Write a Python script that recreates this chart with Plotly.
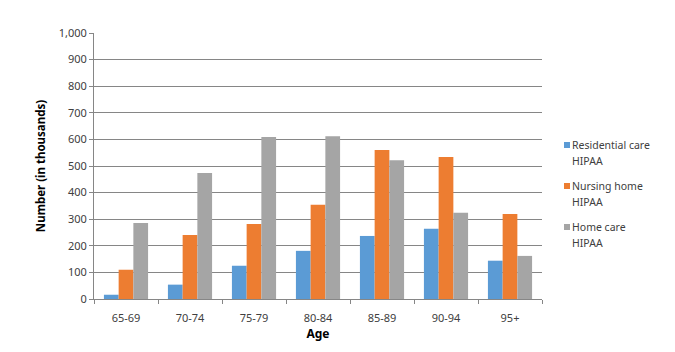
import plotly.graph_objects as go

ages = ["65-69", "70-74", "75-79", "80-84", "85-89", "90-94", "95+"]
residential = [16, 54, 125, 181, 237, 264, 144]
nursing = [110, 241, 282, 354, 560, 534, 320]
home = [286, 474, 609, 612, 522, 324, 162]
series_names = ["Residential care", "Nursing home", "Home care"]
series_sub = ["HIPAA", "HIPAA", "HIPAA"]
colors = ["#5B9BD5", "#ED7D31", "#A5A5A5"]

L, R, T, B = 94, 133, 33, 53
W, H = 675, 352
pw, ph = W - L - R, H - T - B

fig = go.Figure()
for i, (name, vals) in enumerate(zip(series_names, [residential, nursing, home])):
    fig.add_trace(go.Bar(x=ages, y=vals, name=name + " " + series_sub[i], marker_color=colors[i],
                         marker_line_width=0, showlegend=False))

# manual legend (Excel style: small square + two-line label)
def px_x(x):
    return (x - L) / pw
def px_y(y):
    return (H - B - y) / ph

shapes = []
annotations = []
for i, name in enumerate(series_names):
    yc = 145 + i * 41
    shapes.append(dict(type="rect", xref="paper", yref="paper",
                       x0=px_x(564), x1=px_x(570), y0=px_y(yc + 3), y1=px_y(yc - 3),
                       fillcolor=colors[i], line_width=0))
    annotations.append(dict(xref="paper", yref="paper", x=px_x(570), y=px_y(yc),
                            xanchor="left", yanchor="middle", showarrow=False,
                            text=name, font=dict(size=10.5, color="#404040")))
    annotations.append(dict(xref="paper", yref="paper", x=px_x(570), y=px_y(yc + 16),
                            xanchor="left", yanchor="middle", showarrow=False,
                            text=series_sub[i], font=dict(size=10.5, color="#404040")))

fig.update_layout(
    width=W, height=H,
    margin=dict(l=L, r=R, t=T, b=B, autoexpand=False),
    paper_bgcolor="white", plot_bgcolor="white",
    barmode="group", bargap=0.31, bargroupgap=0,
    font=dict(family="Noto Sans", size=11, color="#404040"),
    showlegend=False,
    shapes=shapes, annotations=annotations,
)
fig.update_xaxes(
    type="category", showline=True, linecolor="#868686", linewidth=1,
    ticks="outside", tickson="boundaries", ticklen=4, tickcolor="#868686",
    ticklabelstandoff=9,
    tickfont=dict(size=11, color="#404040"),
    title=dict(text="<b>Age</b>", font=dict(size=12, color="#000000"), standoff=0),
)
fig.update_yaxes(
    range=[0, 1000], dtick=100, tickformat=",",
    showgrid=True, gridcolor="#868686", gridwidth=1,
    showline=True, linecolor="#868686", linewidth=1,
    ticks="outside", ticklen=4, tickcolor="#868686",
    tickfont=dict(size=11, color="#404040"),
    zeroline=False,
    title=dict(text="<b>Number (in thousands)</b>", font=dict(size=11.5, color="#000000"), standoff=10),
)

fig.write_html("out.html")
